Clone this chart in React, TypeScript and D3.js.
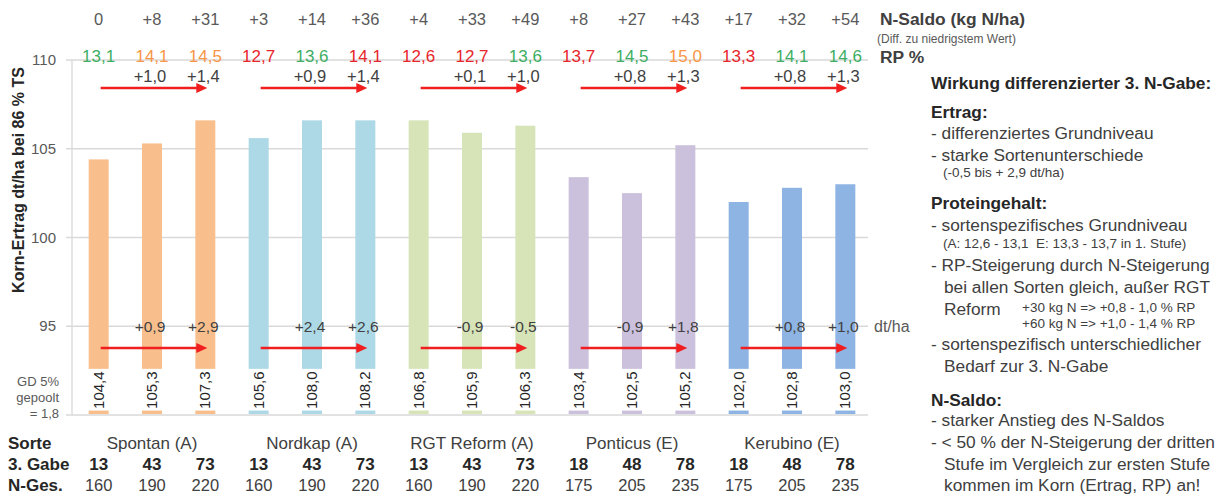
import * as d3 from 'd3';
import { useEffect } from 'react';

// Sorten and the three N levels each
const varieties = ['Spontan (A)', 'Nordkap (A)', 'RGT Reform (A)', 'Ponticus (E)', 'Kerubino (E)'];
const barColors = ['#F8BF8C', '#ADD9E6', '#D6E4B8', '#CCC1DD', '#8EB4E3'];

const yields = [104.4, 105.3, 107.3, 105.6, 108.0, 108.2, 106.8, 105.9, 106.3, 103.4, 102.5, 105.2, 102.0, 102.8, 103.0];
const nSaldo = ['0', '+8', '+31', '+3', '+14', '+36', '+4', '+33', '+49', '+8', '+27', '+43', '+17', '+32', '+54'];
const rp = [13.1, 14.1, 14.5, 12.7, 13.6, 14.1, 12.6, 12.7, 13.6, 13.7, 14.5, 15.0, 13.3, 14.1, 14.6];
const rpClass = ['g', 'o', 'o', 'r', 'g', 'r', 'r', 'r', 'g', 'r', 'g', 'o', 'r', 'g', 'g'];
const rpDiff = [[1.0, 1.4], [0.9, 1.4], [0.1, 1.0], [0.8, 1.3], [0.8, 1.3]];
const yieldDiff = [[0.9, 2.9], [2.4, 2.6], [-0.9, -0.5], [-0.9, 1.8], [0.8, 1.0]];
const gabe3 = [13, 43, 73, 13, 43, 73, 13, 43, 73, 18, 48, 78, 18, 48, 78];
const nGes = [160, 190, 220, 160, 190, 220, 160, 190, 220, 175, 205, 235, 175, 205, 235];
const yTicks = [95, 100, 105, 110];
const barCeiling = 106.6; // bars in the original are cut off here
const breakTop = 92.6; // axis break (labels sit in the gap)

const rpColors: Record<string, string> = { g: '#3DAE63', o: '#F79646', r: '#E8262B' };

const panelLines: { t: string; y: number; x?: number; bold?: boolean; small?: boolean }[] = [
  { t: 'Wirkung differenzierter 3. N-Gabe:', y: 89, bold: true },
  { t: 'Ertrag:', y: 118, bold: true },
  { t: '- differenziertes Grundniveau', y: 139 },
  { t: '- starke Sortenunterschiede', y: 161 },
  { t: '(-0,5 bis + 2,9 dt/ha)', y: 177, x: 943, small: true },
  { t: 'Proteingehalt:', y: 209, bold: true },
  { t: '- sortenspezifisches Grundniveau', y: 231 },
  { t: '(A: 12,6 - 13,1 \u00a0E: 13,3 - 13,7 in 1. Stufe)', y: 248, x: 943, small: true },
  { t: '- RP-Steigerung durch N-Steigerung', y: 271 },
  { t: 'bei allen Sorten gleich, außer RGT', y: 293, x: 944 },
  { t: 'Reform', y: 315, x: 944 },
  { t: '+30 kg N => +0,8 - 1,0 % RP', y: 312, x: 1022, small: true },
  { t: '+60 kg N => +1,0 - 1,4 % RP', y: 328, x: 1022, small: true },
  { t: '- sortenspezifisch unterschiedlicher', y: 350 },
  { t: 'Bedarf zur 3. N-Gabe', y: 372, x: 944 },
  { t: 'N-Saldo:', y: 406, bold: true },
  { t: '- starker Anstieg des N-Saldos', y: 426 },
  { t: '- < 50 % der N-Steigerung der dritten', y: 448 },
  { t: 'Stufe im Vergleich zur ersten Stufe', y: 470, x: 944 },
  { t: 'kommen im Korn (Ertrag, RP) an!', y: 491, x: 944 },
];

const comma = (v: number) => v.toFixed(1).replace('.', ',');
const signed = (v: number) => (v >= 0 ? '+' : '-') + comma(Math.abs(v));

export default function App() {
  useEffect(() => {
    document.body.style.margin = '0';
    document.body.style.overflow = 'hidden';
  }, []);

  const ids = yields.map((_, i) => String(i));
  const x = d3.scaleBand().domain(ids).range([72, 872]).paddingInner(0.625).paddingOuter(0.3125);
  const y = d3.scaleLinear().domain([90, 110]).range([415, 60]);
  const cx = (i: number) => (x(String(i)) ?? 0) + x.bandwidth() / 2;
  const font = 'Liberation Sans, Arial, sans-serif';
  const txt = '#404040';
  const gray = '#595959';

  const arrow = (g: number, yy: number, key: string) => {
    const x1 = cx(g * 3) + 2;
    const x2 = cx(g * 3 + 2) + 2;
    return (
      <g key={key}>
        <line x1={x1} x2={x2 - 8} y1={yy} y2={yy} stroke="#F01E1E" strokeWidth={2.5} />
        <path d={`M${x2},${yy} L${x2 - 11},${yy - 5} L${x2 - 11},${yy + 5} Z`} fill="#F01E1E" />
      </g>
    );
  };

  return (
    <svg width={1224} height={496} style={{ position: 'absolute', left: 0, top: 0, background: '#fff' }} fontFamily={font}>
      {/* grid + axis */}
      {yTicks.map((t) => (
        <g key={t}>
          <line x1={66} x2={868} y1={y(t)} y2={y(t)} stroke="#D9D9D9" strokeWidth={1.3} />
          <text x={56} y={y(t) + 5} textAnchor="end" fontSize={15} fill={gray}>{t}</text>
        </g>
      ))}
      <line x1={72} x2={72} y1={y(110)} y2={y(90)} stroke="#D9D9D9" strokeWidth={1.3} />
      <line x1={66} x2={868} y1={y(90)} y2={y(90)} stroke="#D9D9D9" strokeWidth={1.3} />

      {/* bars, broken below the 95 line */}
      {yields.map((v, i) => {
        const c = barColors[Math.floor(i / 3)];
        const top = y(Math.min(v, barCeiling));
        return (
          <g key={i}>
            <rect x={x(String(i))} width={x.bandwidth()} y={top} height={y(breakTop) - top} fill={c} />
            <rect x={x(String(i))} width={x.bandwidth()} y={y(90.25)} height={y(90) - y(90.25) - 1} fill={c} />
            <text
              transform={`translate(${cx(i) + 5},${y(91.4)}) rotate(-90)`}
              textAnchor="middle"
              fontSize={15}
              fill="#262626"
            >
              {comma(v)}
            </text>
          </g>
        );
      })}

      {/* N-Saldo and RP rows */}
      {nSaldo.map((s, i) => (
        <text key={'s' + i} x={cx(i)} y={25} textAnchor="middle" fontSize={16.5} fill={gray}>{s}</text>
      ))}
      {rp.map((v, i) => (
        <text key={'r' + i} x={cx(i)} y={62} textAnchor="middle" fontSize={17} fill={rpColors[rpClass[i]]}>{comma(v)}</text>
      ))}
      {rpDiff.map((d, g) =>
        d.map((v, k) => (
          <text key={`rd${g}${k}`} x={cx(g * 3 + k + 1) - 2} y={82} textAnchor="middle" fontSize={16.5} fill={txt}>{signed(v)}</text>
        )),
      )}
      {yieldDiff.map((d, g) =>
        d.map((v, k) => (
          <text key={`yd${g}${k}`} x={cx(g * 3 + k + 1) - 2} y={332} textAnchor="middle" fontSize={15.5} fill={txt}>{signed(v)}</text>
        )),
      )}
      {varieties.map((_, g) => arrow(g, 88, 'au' + g))}
      {varieties.map((_, g) => arrow(g, 348, 'ad' + g))}

      {/* right-hand row labels */}
      <text x={880} y={25} fontSize={17.4} fontWeight="bold" fill={txt}>N-Saldo (kg N/ha)</text>
      <text x={877} y={43} fontSize={12} fill={gray}>(Diff. zu niedrigstem Wert)</text>
      <text x={880} y={63} fontSize={17.4} fontWeight="bold" fill={txt}>RP %</text>
      <text x={874} y={332} fontSize={16} fill={gray}>dt/ha</text>

      {/* left labels */}
      <text transform="translate(24,180) rotate(-90)" textAnchor="middle" fontSize={16} fontWeight="bold" fill="#262626">
        Korn-Ertrag dt/ha bei 86 % TS
      </text>
      <text x={59} y={386} textAnchor="end" fontSize={13} fill={gray}>GD 5%</text>
      <text x={59} y={402} textAnchor="end" fontSize={13} fill={gray}>gepoolt</text>
      <text x={59} y={418} textAnchor="end" fontSize={13} fill={gray}>= 1,8</text>

      {/* table below */}
      <text x={8} y={449} fontSize={17} fontWeight="bold" fill="#262626">Sorte</text>
      <text x={8} y={470} fontSize={17} fontWeight="bold" fill="#262626">3. Gabe</text>
      <text x={8} y={491} fontSize={17} fontWeight="bold" fill="#262626">N-Ges.</text>
      {varieties.map((v, g) => (
        <text key={v} x={cx(g * 3 + 1)} y={449} textAnchor="middle" fontSize={17} fill={txt}>{v}</text>
      ))}
      {gabe3.map((v, i) => (
        <text key={'g' + i} x={cx(i)} y={470} textAnchor="middle" fontSize={17} fontWeight="bold" fill="#262626">{v}</text>
      ))}
      {nGes.map((v, i) => (
        <text key={'n' + i} x={cx(i)} y={491} textAnchor="middle" fontSize={16.5} fill={txt}>{v}</text>
      ))}

      {/* text panel */}
      {panelLines.map((l, i) => (
        <text
          key={'p' + i}
          x={l.x ?? 931}
          y={l.y}
          fontSize={l.small ? 13.5 : 17.3}
          fontWeight={l.bold ? 'bold' : 'normal'}
          fill={l.bold ? '#262626' : txt}
        >
          {l.t}
        </text>
      ))}
    </svg>
  );
}
